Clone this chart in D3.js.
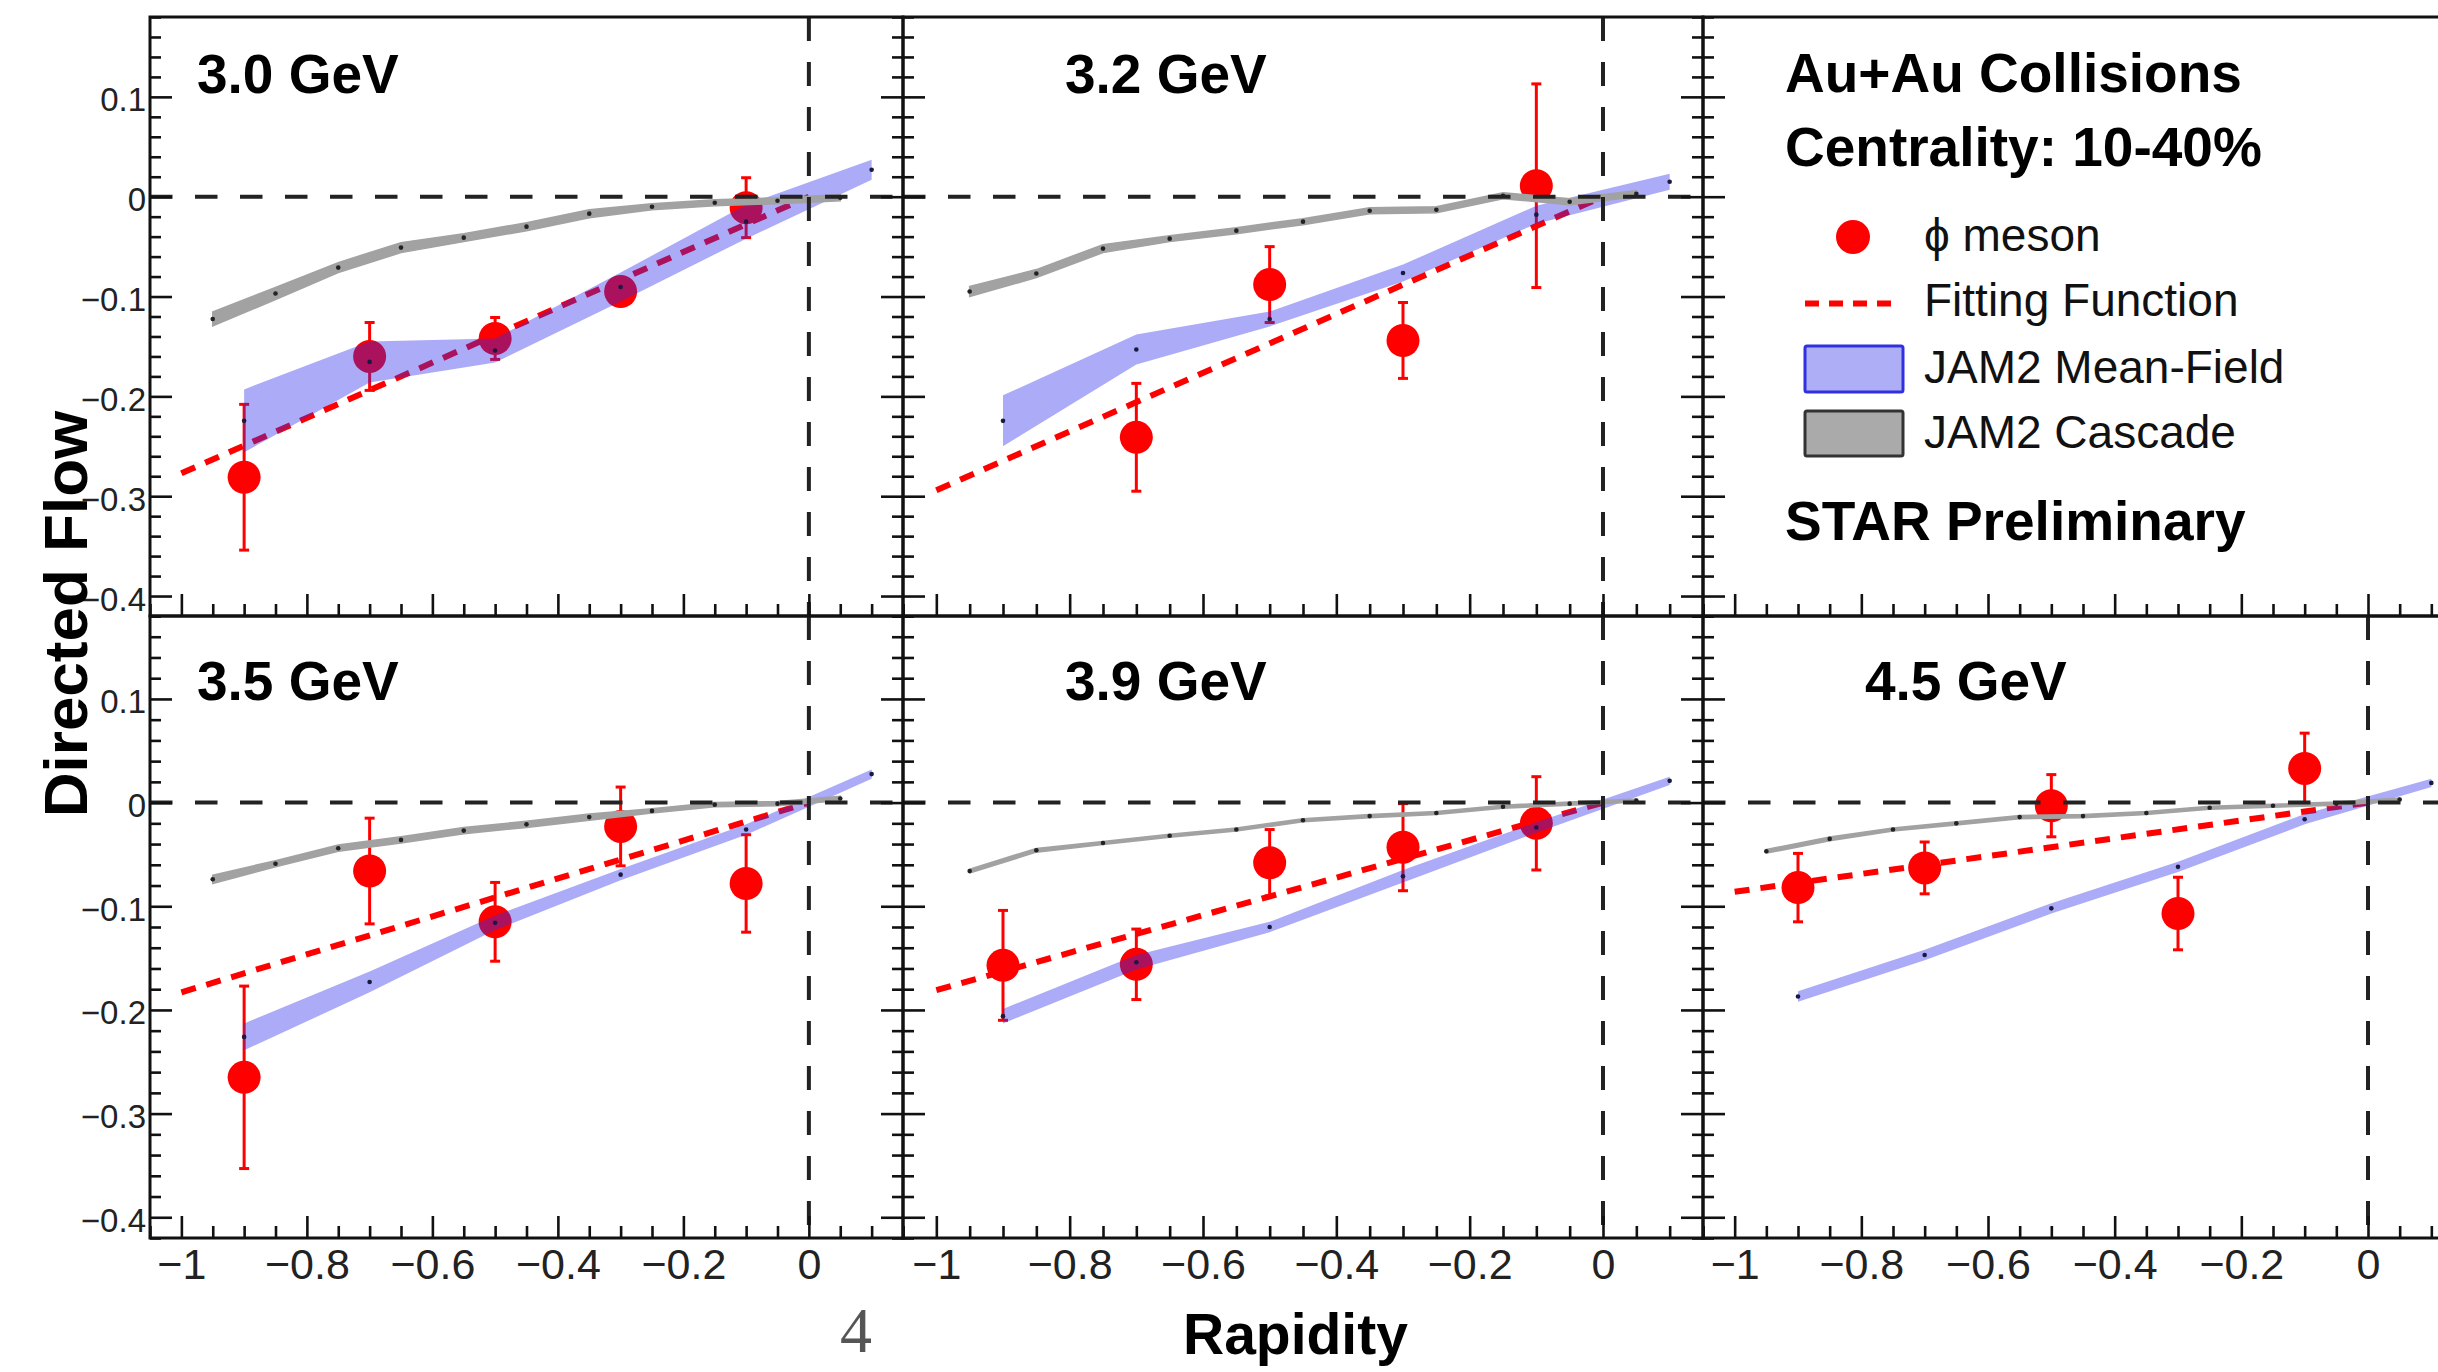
<!DOCTYPE html>
<html><head><meta charset="utf-8">
<script src="https://cdn.jsdelivr.net/npm/d3@7"></script>
<style>html,body{margin:0;padding:0;background:#fff;} svg{display:block;}</style>
</head><body>
<svg id="chart" width="2438" height="1372"></svg>
<script>
// ------------------------- DATA -------------------------
const energyLabels = ["3.0 GeV", "3.2 GeV", "3.5 GeV", "3.9 GeV", "4.5 GeV"];

// phi meson directed flow (rapidity -0.9 ... -0.1)
const rapidityPhi = [-0.9, -0.7, -0.5, -0.3, -0.1];
const phiV1_30 = [-0.281, -0.160, -0.142, -0.095, -0.011];
const phiErr_30 = [0.073, 0.034, 0.021, 0.012, 0.030];
const phiV1_32 = [null, -0.241, -0.088, -0.144, 0.011];
const phiErr_32 = [null, 0.054, 0.038, 0.038, 0.102];
const phiV1_35 = [-0.265, -0.066, -0.115, -0.023, -0.078];
const phiErr_35 = [0.088, 0.051, 0.038, 0.038, 0.047];
const phiV1_39 = [-0.157, -0.156, -0.058, -0.043, -0.020];
const phiErr_39 = [0.053, 0.034, 0.032, 0.042, 0.045];
const phiV1_45 = [-0.082, -0.063, -0.003, -0.107, 0.033];
const phiErr_45 = [0.033, 0.025, 0.030, 0.035, 0.034];

// Fitting function (straight line through the origin), values at rapidity -1 and 0
const fitRapidity = [-1, 0];
const fit_30 = [-0.277, 0];
const fit_32 = [-0.294, 0];
const fit_35 = [-0.183, 0];
const fit_39 = [-0.181, 0];
const fit_45 = [-0.086, 0];

// JAM2 Mean-Field band (lower / upper edge)
const rapidityModel = [-0.9, -0.7, -0.5, -0.3, -0.1, 0.1];
const mfLow_30  = [-0.256, -0.186, -0.166, -0.105, -0.042, 0.017];
const mfHigh_30 = [-0.193, -0.145, -0.142, -0.076, -0.008, 0.037];
const mfLow_32  = [-0.250, -0.168, -0.130, -0.085, -0.027, 0.007];
const mfHigh_32 = [-0.199, -0.138, -0.115, -0.068, -0.009, 0.023];
const mfLow_35  = [-0.239, -0.183, -0.123, -0.075, -0.031, 0.023];
const mfHigh_35 = [-0.213, -0.163, -0.109, -0.064, -0.021, 0.032];
const mfLow_39  = [-0.213, -0.161, -0.125, -0.077, -0.029, 0.017];
const mfHigh_39 = [-0.199, -0.147, -0.115, -0.065, -0.019, 0.025];
const mfLow_45  = [-0.192, -0.152, -0.107, -0.067, -0.021, 0.015];
const mfHigh_45 = [-0.182, -0.142, -0.097, -0.057, -0.011, 0.023];

// JAM2 Cascade band (value and half width)
const rapidityCascade = [-0.95, -0.85, -0.75, -0.65, -0.55, -0.45, -0.35, -0.25, -0.15, -0.05, 0.05];
const casc_30    = [-0.1225, -0.097, -0.071, -0.051, -0.041, -0.030, -0.017, -0.010, -0.006, -0.004, -0.001];
const cascErr_30 = [0.007, 0.006, 0.005, 0.005, 0.004, 0.004, 0.004, 0.003, 0.003, 0.003, 0.003];
const casc_32    = [-0.095, -0.077, -0.052, -0.042, -0.034, -0.025, -0.014, -0.013, 0.001, -0.005, 0.003];
const cascErr_32 = [0.005, 0.004, 0.004, 0.003, 0.003, 0.003, 0.003, 0.003, 0.003, 0.003, 0.003];
const casc_35    = [-0.074, -0.059, -0.044, -0.036, -0.027, -0.021, -0.014, -0.008, -0.002, -0.001, 0.004];
const cascErr_35 = [0.004, 0.003, 0.003, 0.003, 0.003, 0.003, 0.003, 0.002, 0.002, 0.002, 0.002];
const casc_39    = [-0.066, -0.046, -0.039, -0.032, -0.026, -0.017, -0.013, -0.010, -0.004, -0.001, 0.002];
const cascErr_39 = [0.0018, 0.0018, 0.0015, 0.0015, 0.0015, 0.0015, 0.0015, 0.0015, 0.0015, 0.0015, 0.0015];
const casc_45    = [-0.047, -0.035, -0.026, -0.020, -0.014, -0.013, -0.010, -0.005, -0.003, -0.001, 0.003];
const cascErr_45 = [0.0018, 0.0018, 0.0015, 0.0015, 0.0015, 0.0015, 0.0015, 0.0015, 0.0015, 0.0015, 0.0015];

// Axes
const xDomain = [-1.05, 0.15];
const yDomain = [-0.42, 0.18];
const xMajorTicks = [-1, -0.8, -0.6, -0.4, -0.2, 0];
const xTickLabels = ["\u22121", "\u22120.8", "\u22120.6", "\u22120.4", "\u22120.2", "0"];
const yMajorTicks = [-0.4, -0.3, -0.2, -0.1, 0, 0.1];
const yTickLabels = ["\u22120.4", "\u22120.3", "\u22120.2", "\u22120.1", "0", "0.1"];
const xMinorStep = 0.05;
const yMinorStep = 0.02;

// Text
const xTitle = "Rapidity";
const yTitle = "Directed Flow";
const headerLines = ["Au+Au Collisions", "Centrality: 10-40%"];
const legendLabels = ["\u03D5 meson", "Fitting Function", "JAM2 Mean-Field", "JAM2 Cascade"];
const footerLabel = "STAR Preliminary";
const pageNumber = "4";

// ------------------------- LAYOUT -------------------------
const FONT = "'Liberation Sans', Arial, Helvetica, sans-serif";
const RED = "#ff0000";
const MF_FILL = "rgba(45,45,235,0.40)";
const CASC_FILL = "#a2a2a2";

const panelData = [
  {label: energyLabels[0], phi: phiV1_30, err: phiErr_30, fit: fit_30, lo: mfLow_30, hi: mfHigh_30, casc: casc_30, cascErr: cascErr_30},
  {label: energyLabels[1], phi: phiV1_32, err: phiErr_32, fit: fit_32, lo: mfLow_32, hi: mfHigh_32, casc: casc_32, cascErr: cascErr_32},
  null,
  {label: energyLabels[2], phi: phiV1_35, err: phiErr_35, fit: fit_35, lo: mfLow_35, hi: mfHigh_35, casc: casc_35, cascErr: cascErr_35},
  {label: energyLabels[3], phi: phiV1_39, err: phiErr_39, fit: fit_39, lo: mfLow_39, hi: mfHigh_39, casc: casc_39, cascErr: cascErr_39},
  {label: energyLabels[4], phi: phiV1_45, err: phiErr_45, fit: fit_45, lo: mfLow_45, hi: mfHigh_45, casc: casc_45, cascErr: cascErr_45}
];

const panelLayout = [
  {left: 150, right: 903,  top: 17,  bottom: 616,  yLabels: true,  xLabels: false, labelX: 197,  labelY: 93},
  {left: 903, right: 1703, top: 17,  bottom: 616,  yLabels: false, xLabels: false, labelX: 1065, labelY: 93},
  {left: 1703, right: 2463, top: 17, bottom: 616,  yLabels: false, xLabels: false},
  {left: 150, right: 903,  top: 616, bottom: 1238, yLabels: true,  xLabels: true,  labelX: 197,  labelY: 700},
  {left: 903, right: 1703, top: 616, bottom: 1238, yLabels: false, xLabels: true,  labelX: 1065, labelY: 700},
  {left: 1703, right: 2463, top: 616, bottom: 1238, yLabels: false, xLabels: true, labelX: 1865, labelY: 700}
];

const svg = d3.select("#chart");
svg.append("rect").attr("width", 2438).attr("height", 1372).attr("fill", "#fff");

const isMajor = (v, majors) => majors.some(m => Math.abs(m - v) < 1e-9);
const xMinorTicks = d3.range(Math.round(xDomain[0] / xMinorStep), Math.round(xDomain[1] / xMinorStep) + 1)
  .map(i => +(i * xMinorStep).toFixed(3)).filter(v => !isMajor(v, xMajorTicks));
const yMinorTicks = d3.range(Math.round(yDomain[0] / yMinorStep), Math.round(yDomain[1] / yMinorStep) + 1)
  .map(i => +(i * yMinorStep).toFixed(3)).filter(v => !isMajor(v, yMajorTicks));

function styleAxis(g, width) {
  g.select(".domain").remove();
  g.selectAll(".tick line").attr("stroke", "#111").attr("stroke-width", width);
}

panelLayout.forEach((p, i) => {
  const d = panelData[i];
  const x = d3.scaleLinear().domain(xDomain).range([p.left, p.right]);
  const y = d3.scaleLinear().domain(yDomain).range([p.bottom, p.top]);
  const g = svg.append("g");
  const clipId = "clip" + i;
  svg.append("clipPath").attr("id", clipId).append("rect")
    .attr("x", p.left).attr("y", p.top).attr("width", p.right - p.left).attr("height", p.bottom - p.top);
  const plot = g.append("g").attr("clip-path", `url(#${clipId})`);

  if (d) {
    // phi meson error bars and markers
    const pts = rapidityPhi.map((r, k) => ({r, v: d.phi[k], e: d.err[k]})).filter(o => o.v !== null);
    const eb = plot.append("g").attr("stroke", RED).attr("stroke-width", 3);
    pts.forEach(o => {
      eb.append("line").attr("x1", x(o.r)).attr("x2", x(o.r)).attr("y1", y(o.v - o.e)).attr("y2", y(o.v + o.e));
      [o.v - o.e, o.v + o.e].forEach(vv => {
        eb.append("line").attr("x1", x(o.r) - 5).attr("x2", x(o.r) + 5).attr("y1", y(vv)).attr("y2", y(vv));
      });
    });
    plot.append("g").selectAll("circle").data(pts).join("circle")
      .attr("cx", o => x(o.r)).attr("cy", o => y(o.v)).attr("r", 16.5).attr("fill", RED);

    // fitting function
    plot.append("path")
      .datum(fitRapidity.map((r, k) => [r, d.fit[k]]))
      .attr("d", d3.line().x(q => x(q[0])).y(q => y(q[1])))
      .attr("fill", "none").attr("stroke", RED).attr("stroke-width", 6)
      .attr("stroke-dasharray", "15,11");

    // JAM2 mean-field band
    const mf = rapidityModel.map((r, k) => ({r, lo: d.lo[k], hi: d.hi[k]}));
    plot.append("path").datum(mf)
      .attr("d", d3.area().x(q => x(q.r)).y0(q => y(q.lo)).y1(q => y(q.hi)))
      .attr("fill", MF_FILL).attr("stroke", "none");
    plot.append("g").selectAll("circle").data(mf).join("circle")
      .attr("cx", q => x(q.r)).attr("cy", q => y((q.lo + q.hi) / 2)).attr("r", 2.3).attr("fill", "#1a1a40");

    // JAM2 cascade band
    const cs = rapidityCascade.map((r, k) => ({r, v: d.casc[k], e: d.cascErr[k]}));
    plot.append("path").datum(cs)
      .attr("d", d3.area().x(q => x(q.r)).y0(q => y(q.v - q.e)).y1(q => y(q.v + q.e)))
      .attr("fill", CASC_FILL).attr("stroke", CASC_FILL).attr("stroke-width", 1.5);
    plot.append("g").selectAll("circle").data(cs).join("circle")
      .attr("cx", q => x(q.r)).attr("cy", q => y(q.v)).attr("r", 2.3).attr("fill", "#222");

    // zero lines
    plot.append("line").attr("x1", x(xDomain[0])).attr("x2", x(xDomain[1])).attr("y1", y(0)).attr("y2", y(0))
      .attr("stroke", "#222").attr("stroke-width", 4).attr("stroke-dasharray", "22.5,22.5");
    plot.append("line").attr("x1", x(0)).attr("x2", x(0)).attr("y1", y(yDomain[1])).attr("y2", y(yDomain[0]))
      .attr("stroke", "#222").attr("stroke-width", 4).attr("stroke-dasharray", "24,21");

    // energy label
    g.append("text").attr("x", p.labelX).attr("y", p.labelY).text(d.label)
      .attr("font-family", FONT).attr("font-weight", "bold").attr("font-size", 55).attr("fill", "#000");
  }

  // axes: left (inward ticks), right (inward ticks), bottom (inward ticks)
  const yl = g.append("g").attr("transform", `translate(${p.left},0)`)
    .call(d3.axisLeft(y).tickValues(yMajorTicks).tickSizeInner(-22).tickSizeOuter(0)
      .tickFormat((v, k) => p.yLabels ? yTickLabels[k] : ""));
  styleAxis(yl, 2.6);
  yl.selectAll(".tick text").attr("x", -4).attr("dy", null).attr("y", 14)
    .attr("font-family", FONT).attr("font-size", 33).attr("fill", "#222");
  const ylm = g.append("g").attr("transform", `translate(${p.left},0)`)
    .call(d3.axisLeft(y).tickValues(yMinorTicks).tickSizeInner(-11).tickSizeOuter(0).tickFormat(""));
  styleAxis(ylm, 2.6);

  if (p.right < 2438) {
    const yr = g.append("g").attr("transform", `translate(${p.right},0)`)
      .call(d3.axisRight(y).tickValues(yMajorTicks).tickSizeInner(-22).tickSizeOuter(0).tickFormat(""));
    styleAxis(yr, 2.6);
    const yrm = g.append("g").attr("transform", `translate(${p.right},0)`)
      .call(d3.axisRight(y).tickValues(yMinorTicks).tickSizeInner(-11).tickSizeOuter(0).tickFormat(""));
    styleAxis(yrm, 2.6);
  }

  const xb = g.append("g").attr("transform", `translate(0,${p.bottom})`)
    .call(d3.axisBottom(x).tickValues(xMajorTicks).tickSizeInner(-22).tickSizeOuter(0)
      .tickFormat((v, k) => p.xLabels ? xTickLabels[k] : ""));
  styleAxis(xb, 2.6);
  xb.selectAll(".tick text").attr("y", 41).attr("dy", null)
    .attr("font-family", FONT).attr("font-size", 43).attr("fill", "#222");
  const xbm = g.append("g").attr("transform", `translate(0,${p.bottom})`)
    .call(d3.axisBottom(x).tickValues(xMinorTicks).tickSizeInner(-12).tickSizeOuter(0).tickFormat(""));
  styleAxis(xbm, 2.6);

  // frame
  g.append("rect").attr("x", p.left).attr("y", p.top).attr("width", p.right - p.left).attr("height", p.bottom - p.top)
    .attr("fill", "none").attr("stroke", "#111").attr("stroke-width", 3);
});

// ------------------------- LEGEND PANEL -------------------------
const lg = svg.append("g").attr("font-family", FONT);
const headerY = [92, 166];
headerLines.forEach((t, k) => {
  lg.append("text").attr("x", 1785).attr("y", headerY[k]).text(t)
    .attr("font-weight", "bold").attr("font-size", 55).attr("fill", "#000");
});
const entryY = [251, 316, 383, 448];
legendLabels.forEach((t, k) => {
  lg.append("text").attr("x", 1924).attr("y", entryY[k]).text(t)
    .attr("font-size", 46).attr("fill", "#111");
});
lg.append("circle").attr("cx", 1853).attr("cy", 237).attr("r", 17).attr("fill", RED);
lg.append("line").attr("x1", 1805).attr("x2", 1899).attr("y1", 303.5).attr("y2", 303.5)
  .attr("stroke", RED).attr("stroke-width", 6).attr("stroke-dasharray", "14,10");
lg.append("rect").attr("x", 1805).attr("y", 346).attr("width", 98).attr("height", 46).attr("rx", 2)
  .attr("fill", "#aeaef6").attr("stroke", "#3030e0").attr("stroke-width", 3);
lg.append("rect").attr("x", 1805).attr("y", 411).attr("width", 98).attr("height", 45).attr("rx", 2)
  .attr("fill", "#aaaaaa").attr("stroke", "#333").attr("stroke-width", 3);
lg.append("text").attr("x", 1785).attr("y", 540).text(footerLabel)
  .attr("font-weight", "bold").attr("font-size", 55).attr("fill", "#000");

// ------------------------- AXIS TITLES -------------------------
svg.append("text").attr("transform", "translate(87,614) rotate(-90)").attr("text-anchor", "middle")
  .text(yTitle).attr("font-family", FONT).attr("font-weight", "bold").attr("font-size", 62).attr("fill", "#000");
svg.append("text").attr("x", 1183).attr("y", 1354).text(xTitle)
  .attr("font-family", FONT).attr("font-weight", "bold").attr("font-size", 57).attr("fill", "#000");
svg.append("text").attr("x", 856).attr("y", 1352).attr("text-anchor", "middle").text(pageNumber)
  .attr("font-family", "'Liberation Serif', 'DejaVu Serif', serif").attr("font-size", 64).attr("fill", "#555");
</script>
</body></html>
